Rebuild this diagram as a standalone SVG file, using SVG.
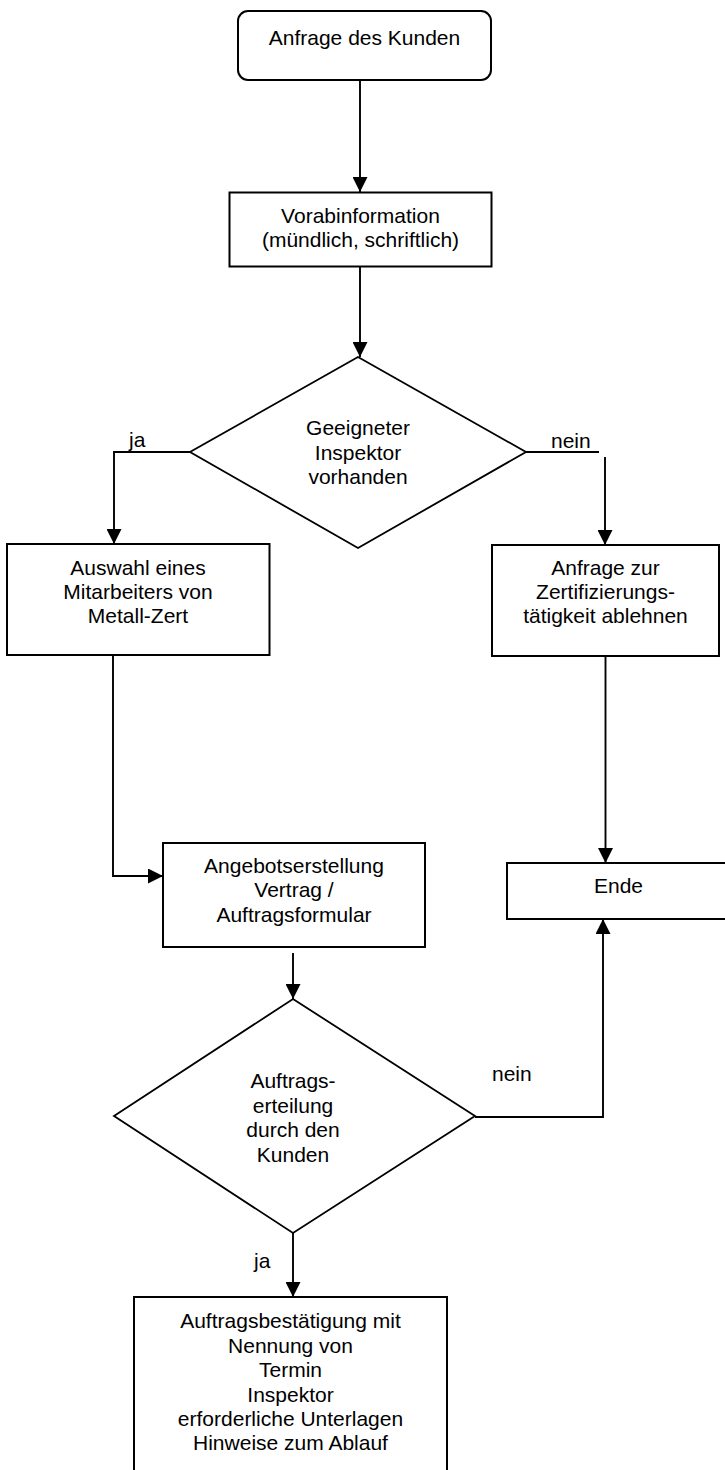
<svg xmlns="http://www.w3.org/2000/svg" width="725" height="1470" viewBox="0 0 725 1470">
<style>
.box{fill:#fff;stroke:#000;stroke-width:2}
.dia{fill:#fff;stroke:#000;stroke-width:1.8}
.t{font-family:"Liberation Sans",Arial,sans-serif;font-size:21px;fill:#000;text-anchor:middle}
.l{font-family:"Liberation Sans",Arial,sans-serif;font-size:21px;fill:#000}
.c{fill:none;stroke:#000;stroke-width:1.9}
.a{marker-end:url(#arr)}
</style>
<defs>
<marker id="arr" viewBox="0 0 15 15" refX="15" refY="7.5" markerWidth="15" markerHeight="15" orient="auto" markerUnits="userSpaceOnUse">
<path d="M0,0 L15,7.5 L0,15 z" fill="#000"/>
</marker>
</defs>
<rect width="725" height="1470" fill="#fff"/>
<g id="connectors">
<line class="c a" x1="360" y1="80" x2="360" y2="192"/>
<line class="c a" x1="360" y1="267" x2="360" y2="357"/>
<polyline class="c a" points="190,452 114,452 114,544"/>
<line class="c" x1="526" y1="452" x2="599" y2="452"/>
<line class="c a" x1="605" y1="457" x2="605" y2="545"/>
<polyline class="c a" points="113,655 113,876 163,876"/>
<line class="c a" x1="605.5" y1="656" x2="605.5" y2="863"/>
<line class="c a" x1="293" y1="953" x2="293" y2="999"/>
<polyline class="c a" points="475,1117 603,1117 603,919"/>
<line class="c a" x1="293" y1="1233" x2="293" y2="1297"/>
<text class="l" x="129" y="447">ja</text>
<text class="l" x="551" y="448">nein</text>
<text class="l" x="492" y="1081">nein</text>
<text class="l" x="254" y="1268">ja</text>
</g>
<g id="n1">
<rect class="box" x="238" y="11" width="253" height="69" rx="10"/>
<text class="t" x="364.5" y="45">Anfrage des Kunden</text>
</g>
<g id="n2">
<rect class="box" x="229.5" y="192.5" width="262" height="74"/>
<text class="t" x="360.5" y="223">Vorabinformation</text>
<text class="t" x="360.5" y="247">(mündlich, schriftlich)</text>
</g>
<g id="d1">
<polygon class="dia" points="358,357 526,452 358,548 190,452"/>
<text class="t" x="358" y="435">Geeigneter</text>
<text class="t" x="358" y="459.5">Inspektor</text>
<text class="t" x="358" y="484">vorhanden</text>
</g>
<g id="n3">
<rect class="box" x="7" y="544" width="262.5" height="111"/>
<text class="t" x="138" y="575">Auswahl eines</text>
<text class="t" x="138" y="599">Mitarbeiters von</text>
<text class="t" x="138" y="623">Metall-Zert</text>
</g>
<g id="n4">
<rect class="box" x="492" y="545" width="227" height="111"/>
<text class="t" x="605.5" y="575">Anfrage zur</text>
<text class="t" x="605.5" y="599">Zertifizierungs-</text>
<text class="t" x="605.5" y="623">tätigkeit ablehnen</text>
</g>
<g id="n5">
<rect class="box" x="163" y="843" width="262" height="104"/>
<text class="t" x="294" y="873">Angebotserstellung</text>
<text class="t" x="294" y="897">Vertrag /</text>
<text class="t" x="294" y="921.5">Auftragsformular</text>
</g>
<g id="n6">
<rect class="box" x="507" y="863" width="225" height="56"/>
<text class="t" x="618.5" y="893">Ende</text>
</g>
<g id="d2">
<polygon class="dia" points="293,999 475,1116 293,1233 114,1116"/>
<text class="t" x="293" y="1088">Auftrags-</text>
<text class="t" x="293" y="1112.5">erteilung</text>
<text class="t" x="293" y="1137">durch den</text>
<text class="t" x="293" y="1161.5">Kunden</text>
</g>
<g id="n7">
<rect class="box" x="134" y="1297" width="313" height="190"/>
<text class="t" x="290.5" y="1328">Auftragsbestätigung mit</text>
<text class="t" x="290.5" y="1352.5">Nennung von</text>
<text class="t" x="290.5" y="1377">Termin</text>
<text class="t" x="290.5" y="1401.5">Inspektor</text>
<text class="t" x="290.5" y="1426">erforderliche Unterlagen</text>
<text class="t" x="290.5" y="1450">Hinweise zum Ablauf</text>
</g>
</svg>
